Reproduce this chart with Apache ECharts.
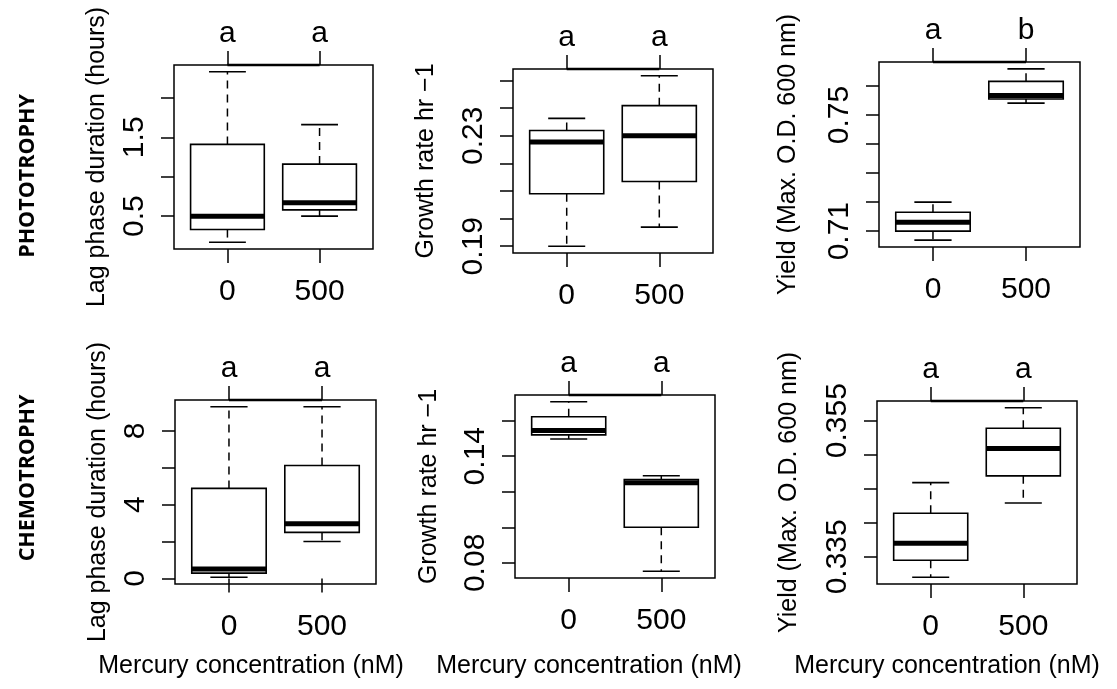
<!DOCTYPE html>
<html>
<head>
<meta charset="utf-8">
<script src="https://cdn.jsdelivr.net/npm/echarts@6/dist/echarts.min.js"></script>
<style>
  html, body { margin: 0; padding: 0; background: #fff; }
  #chart { width: 1117px; height: 689px; }
</style>
</head>
<body>
<div id="chart"></div>
<script>
// Mercury treatment groups (x categories)
const categories = ['0', '500'];

// Five-number summaries per group: [lower whisker, Q1, median, Q3, upper whisker]
const lagPhoto    = [[0.17, 0.33, 0.50, 1.41, 2.33], [0.50, 0.58, 0.67, 1.16, 1.66]];
const growthPhoto = [[0.190, 0.209, 0.2277, 0.2319, 0.2363], [0.1969, 0.2134, 0.2300, 0.2409, 0.2517]];
const yieldPhoto  = [[0.7069, 0.7100, 0.7131, 0.7165, 0.7200], [0.7541, 0.7555, 0.7567, 0.7616, 0.7659]];
const lagChemo    = [[0.07, 0.29, 0.52, 4.88, 9.30], [2.00, 2.50, 2.97, 6.12, 9.30]];
const growthChemo = [[0.1497, 0.1520, 0.1544, 0.1622, 0.1706], [0.0753, 0.1000, 0.1251, 0.1269, 0.1290]];
const yieldChemo  = [[0.3320, 0.3345, 0.3370, 0.3414, 0.3459], [0.3429, 0.3469, 0.3509, 0.3539, 0.3569]];

// Significance letters above each group
const lettersLagPhoto    = ['a', 'a'];
const lettersGrowthPhoto = ['a', 'a'];
const lettersYieldPhoto  = ['a', 'b'];
const lettersLagChemo    = ['a', 'a'];
const lettersGrowthChemo = ['a', 'a'];
const lettersYieldChemo  = ['a', 'a'];

// Y tick positions and the subset that carries a label
const ticksLagPhoto     = [0.5, 1.0, 1.5, 2.0];
const labelsLagPhoto    = ['0.5', '1.5'];
const ticksGrowthPhoto  = [0.19, 0.20, 0.21, 0.22, 0.23, 0.24, 0.25];
const labelsGrowthPhoto = ['0.19', '0.23'];
const ticksYieldPhoto   = [0.71, 0.72, 0.73, 0.74, 0.75, 0.76];
const labelsYieldPhoto  = ['0.71', '0.75'];
const ticksLagChemo     = [0, 2, 4, 6, 8];
const labelsLagChemo    = ['0', '4', '8'];
const ticksGrowthChemo  = [0.08, 0.10, 0.12, 0.14, 0.16];
const labelsGrowthChemo = ['0.08', '0.14'];
const ticksYieldChemo   = [0.335, 0.340, 0.345, 0.350, 0.355];
const labelsYieldChemo  = ['0.335', '0.355'];

const yTitleLag    = 'Lag phase duration (hours)';
const yTitleGrowth = 'Growth rate hr \u22121';
const yTitleYield  = 'Yield (Max. O.D. 600 nm)';
const xTitle       = 'Mercury concentration (nM)';
const rowTitles    = ['PHOTOTROPHY', 'CHEMOTROPHY'];

const panels = [
  { stats: lagPhoto,    letters: lettersLagPhoto,    ticks: ticksLagPhoto,    labels: labelsLagPhoto,    title: yTitleLag,    box: [174, 65, 199, 184],  nameGap: 64 },
  { stats: growthPhoto, letters: lettersGrowthPhoto, ticks: ticksGrowthPhoto, labels: labelsGrowthPhoto, title: yTitleGrowth, box: [513, 69, 200, 184],  nameGap: 74 },
  { stats: yieldPhoto,  letters: lettersYieldPhoto,  ticks: ticksYieldPhoto,  labels: labelsYieldPhoto,  title: yTitleYield,  box: [879, 62, 201, 185],  nameGap: 78 },
  { stats: lagChemo,    letters: lettersLagChemo,    ticks: ticksLagChemo,    labels: labelsLagChemo,    title: yTitleLag,    box: [175, 400, 201, 184], nameGap: 64 },
  { stats: growthChemo, letters: lettersGrowthChemo, ticks: ticksGrowthChemo, labels: labelsGrowthChemo, title: yTitleGrowth, box: [515, 395, 200, 183], nameGap: 73 },
  { stats: yieldChemo,  letters: lettersYieldChemo,  ticks: ticksYieldChemo,  labels: labelsYieldChemo,  title: yTitleYield,  box: [877, 401, 200, 183], nameGap: 75 }
];

const FONT = '"Liberation Sans", Arial, Helvetica, sans-serif';
const INK = '#000';

// Box-and-whisker glyph in the classic base-graphics style
function renderBox(params, api) {
  const x = api.value(0);
  const lo = api.coord([x, api.value(1)]);
  const q1 = api.coord([x, api.value(2)]);
  const md = api.coord([x, api.value(3)]);
  const q3 = api.coord([x, api.value(4)]);
  const hi = api.coord([x, api.value(5)]);
  const half = api.size([0.8, 0])[0] / 2;
  const staple = half / 2;
  const cx = lo[0];
  const dashed = { stroke: INK, lineWidth: 1.5, lineDash: [8, 6] };
  const solid = { stroke: INK, lineWidth: 1.6 };
  return {
    type: 'group',
    children: [
      { type: 'line', shape: { x1: cx, y1: q3[1], x2: cx, y2: hi[1] }, style: dashed },
      { type: 'line', shape: { x1: cx, y1: q1[1], x2: cx, y2: lo[1] }, style: dashed },
      { type: 'line', shape: { x1: cx - staple, y1: hi[1], x2: cx + staple, y2: hi[1] }, style: solid },
      { type: 'line', shape: { x1: cx - staple, y1: lo[1], x2: cx + staple, y2: lo[1] }, style: solid },
      { type: 'rect', shape: { x: cx - half, y: q3[1], width: half * 2, height: q1[1] - q3[1] },
        style: { fill: '#fff', stroke: INK, lineWidth: 1.6 } },
      { type: 'line', shape: { x1: cx - half, y1: md[1], x2: cx + half, y2: md[1] },
        style: { stroke: INK, lineWidth: 5 } }
    ]
  };
}

const grid = [], xAxis = [], yAxis = [], series = [];
panels.forEach((p, i) => {
  const [left, top, width, height] = p.box;
  grid.push({ left, top, width, height, show: true, borderColor: INK, borderWidth: 1.5, backgroundColor: 'transparent' });

  // Bottom axis: group names
  xAxis.push({
    type: 'value', gridIndex: i, position: 'bottom', min: 0.42, max: 2.58,
    axisLine: { show: false }, splitLine: { show: false },
    axisTick: { show: true, customValues: [1, 2], length: 14, lineStyle: { color: INK, width: 1.5 } },
    axisLabel: { show: true, customValues: [1, 2], formatter: v => categories[Math.round(v) - 1],
      fontSize: 30, color: INK, fontFamily: FONT, margin: 28 }
  });
  // Top axis: significance letters
  xAxis.push({
    type: 'value', gridIndex: i, position: 'top', min: 0.42, max: 2.58,
    axisLine: { show: false }, splitLine: { show: false },
    axisTick: { show: true, customValues: [1, 2], length: 14, lineStyle: { color: INK, width: 1.5 } },
    axisLabel: { show: true, customValues: [1, 2], formatter: v => p.letters[Math.round(v) - 1],
      fontSize: 30, color: INK, fontFamily: FONT, margin: 16 }
  });

  // Axis range: data span padded 4% on each side
  const all = p.stats.flat();
  const lo = Math.min(...all), hi = Math.max(...all), pad = (hi - lo) * 0.04;
  const labelVals = p.labels.map(Number);
  yAxis.push({
    type: 'value', gridIndex: i, min: lo - pad, max: hi + pad,
    axisLine: { show: false }, splitLine: { show: false },
    axisTick: { show: true, customValues: p.ticks, length: 13, lineStyle: { color: INK, width: 1.5 } },
    axisLabel: { show: true, customValues: labelVals, rotate: 90,
      formatter: v => { const k = labelVals.findIndex(t => Math.abs(t - v) < 1e-9); return k >= 0 ? p.labels[k] : ''; },
      fontSize: 30, color: INK, fontFamily: FONT, margin: 24 },
    name: p.title, nameLocation: 'middle', nameRotate: 90, nameGap: p.nameGap,
    nameTextStyle: { fontSize: 25, color: INK, fontFamily: FONT }
  });

  series.push({
    type: 'custom', xAxisIndex: i * 2, yAxisIndex: i, clip: false,
    renderItem: renderBox,
    encode: { x: 0, y: [1, 2, 3, 4, 5] },
    data: p.stats.map((s, k) => [k + 1, ...s])
  });
});

const rowFont = 'bold 21.5px "Open Sans", sans-serif';
const graphic = [
  { type: 'text', x: 28, y: 176, rotation: Math.PI / 2,
    style: { text: rowTitles[0], font: rowFont, fill: INK, align: 'center', verticalAlign: 'middle' } },
  { type: 'text', x: 28, y: 478, rotation: Math.PI / 2,
    style: { text: rowTitles[1], font: rowFont, fill: INK, align: 'center', verticalAlign: 'middle' } },
  { type: 'text', x: 251, y: 666, style: { text: xTitle, font: '25px ' + FONT, fill: INK, align: 'center', verticalAlign: 'middle' } },
  { type: 'text', x: 589, y: 666, style: { text: xTitle, font: '25px ' + FONT, fill: INK, align: 'center', verticalAlign: 'middle' } },
  { type: 'text', x: 947, y: 666, style: { text: xTitle, font: '25px ' + FONT, fill: INK, align: 'center', verticalAlign: 'middle' } }
];

const chart = echarts.init(document.getElementById('chart'), null, { renderer: 'canvas' });
chart.setOption({ animation: false, backgroundColor: '#fff', grid, xAxis, yAxis, series, graphic });

// Top axis line: runs between the first and last letter ticks along the upper border
const axisLines = panels.map((p, i) => {
  const yMax = chart.getModel().getComponent('yAxis', i).axis.scale.getExtent()[1];
  const a = chart.convertToPixel({ xAxisIndex: i * 2 + 1, yAxisIndex: i }, [1, yMax]);
  const b = chart.convertToPixel({ xAxisIndex: i * 2 + 1, yAxisIndex: i }, [2, yMax]);
  return { type: 'line', shape: { x1: a[0], y1: a[1], x2: b[0], y2: b[1] }, style: { stroke: INK, lineWidth: 2.6 } };
});
chart.setOption({ graphic: graphic.concat(axisLines) });
</script>
</body>
</html>
